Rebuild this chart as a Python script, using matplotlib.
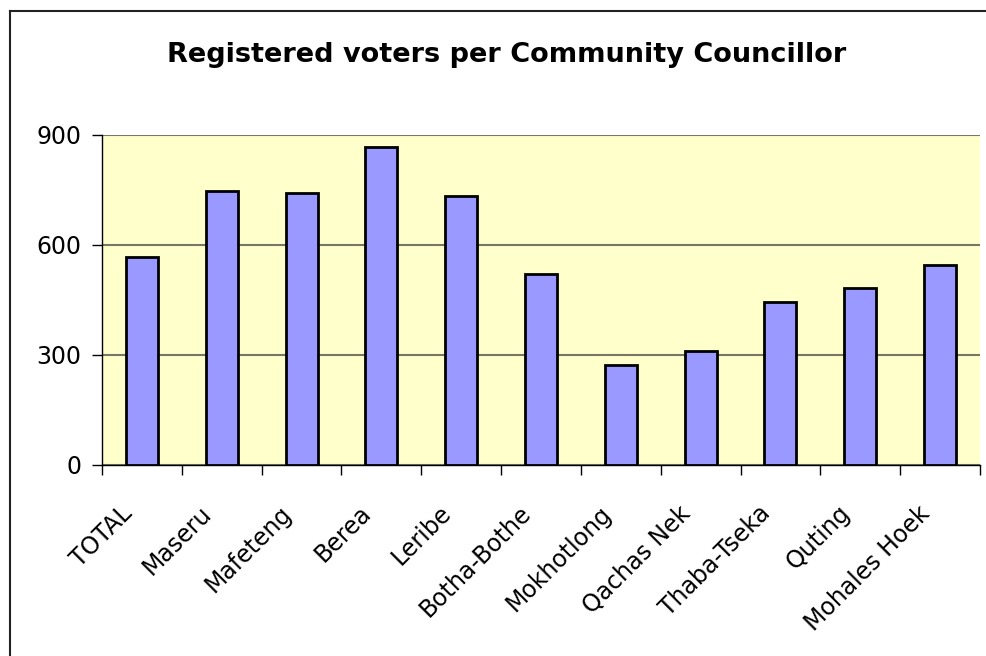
import numpy as np
import matplotlib.pyplot as plt
from matplotlib.lines import Line2D
from matplotlib.transforms import ScaledTranslation

plt.rcParams['font.family'] = ['DejaVu Sans']

districts = ['TOTAL', 'Maseru', 'Mafeteng', 'Berea', 'Leribe', 'Botha-Bothe',
             'Mokhotlong', 'Qachas Nek', 'Thaba-Tseka', 'Quting', 'Mohales Hoek']
voters_per_councillor = [568, 746, 740, 866, 732, 520, 272, 311, 443, 481, 545]
y_ticks = [0, 300, 600, 900]

fig = plt.figure(figsize=(9.87, 6.56), dpi=100)
ax = fig.add_axes([102 / 987, 1 - 465 / 656, 878 / 987, 330.3 / 656])

x = np.arange(len(districts))
ax.bar(x, voters_per_councillor, width=0.4, color='#9999FF',
       edgecolor='black', linewidth=2, zorder=3)

ax.set_facecolor('#FFFFCC')
ax.set_xlim(-0.5, len(districts) - 0.5)
ax.set_ylim(0, 900)
ax.set_yticks(y_ticks)
ax.set_yticklabels([str(v) for v in y_ticks], fontsize=17)
ax.yaxis.grid(True, color='#777766', linewidth=1.5, zorder=1)

# ticks sit between categories, labels near the centres
ax.set_xticks(np.arange(len(districts) + 1) - 0.5)
ax.set_xticklabels([])
ax.set_xticks(x, minor=True)
ax.set_xticklabels(districts, minor=True, rotation=45, ha='right',
                   rotation_mode='anchor', fontsize=17)
ax.tick_params(axis='x', which='minor', length=0, pad=26)
ax.tick_params(axis='x', which='major', length=7, width=1, direction='out')
ax.tick_params(axis='y', length=7, width=1, direction='out', pad=8)
shift = ScaledTranslation(-0.22, 0, fig.dpi_scale_trans)
for lab in ax.get_xticklabels(minor=True):
    lab.set_transform(lab.get_transform() + shift)

for side in ['top', 'right']:
    ax.spines[side].set_visible(False)
for side in ['left', 'bottom']:
    ax.spines[side].set_color('black')
    ax.spines[side].set_linewidth(1)

fig.text(507 / 987, 1 - 55 / 656, 'Registered voters per Community Councillor',
         ha='center', va='center', fontsize=19.5, fontweight='bold')

# chart-area border: only top and left edges show
top = 1 - 10.5 / 656
left = 10.5 / 987
fig.lines.append(Line2D([left, 1], [top, top], transform=fig.transFigure,
                        color='#222222', linewidth=1.5))
fig.lines.append(Line2D([left, left], [0, top], transform=fig.transFigure,
                        color='#222222', linewidth=1.5))

fig.savefig('out.png', dpi=100)
